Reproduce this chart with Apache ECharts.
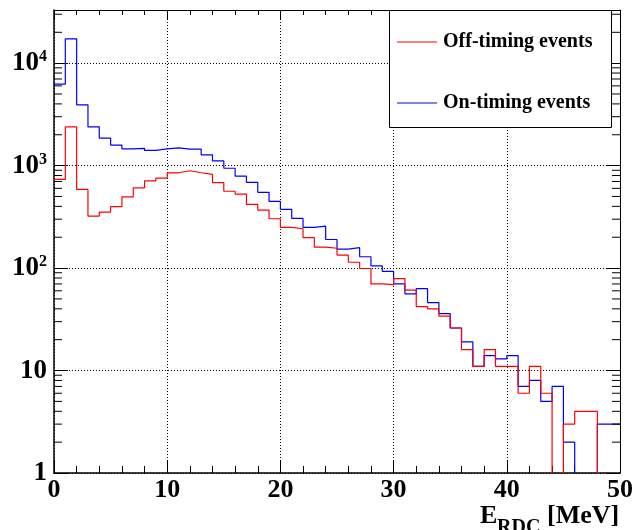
<!DOCTYPE html>
<html>
<head>
<meta charset="utf-8">
<script src="https://cdn.jsdelivr.net/npm/echarts@6/dist/echarts.min.js"></script>
<style>
html,body{margin:0;padding:0;background:#fff;}
#chart{width:644px;height:530px;}
</style>
</head>
<body>
<div id="chart"></div>
<script>
// ---- data (1 MeV bins from 0 to 50 MeV) ----
const binEdges = Array.from({length: 51}, (_, i) => i); // 0,1,...,50
const offTiming = [733, 2390, 586, 322, 352, 397, 496, 607, 711, 755,
  851, 890, 851, 820, 683, 562, 527, 418, 368, 303,
  250, 242, 198, 160, 156, 134, 114, 99, 70, 69,
  79, 61, 42, 40, 34, 26, 16, 11, 16, 11,
  11, 6, 11, 6, 0, 3, 4, 4, 0, 0];
const onTiming = [6240, 17260, 3920, 2390, 1855, 1585, 1459, 1475, 1406, 1459,
  1492, 1449, 1449, 1275, 1110, 942, 790, 686, 548, 447,
  374, 305, 250, 257, 190, 153, 158, 129, 105, 93,
  70, 56, 63, 46, 36, 26, 19, 11, 14, 13,
  14, 7, 8, 5, 7, 2, 0, 0, 3, 3];
const seriesNames = ['Off-timing events', 'On-timing events'];
const xTicks = [0, 10, 20, 30, 40, 50];
const yDecades = [1, 10, 100, 1000, 10000];
const yMinorTicks = [2,3,4,5,6,7,8,9,20,30,40,50,60,70,80,90,200,300,400,500,600,700,800,900,
  2000,3000,4000,5000,6000,7000,8000,9000,20000,30000];

const FONT = 'Liberation Serif';
const Y_MIN = 1, Y_MAX = 33000;

// histogram outline: point at each left bin edge, last edge repeats last bin
function histPoints(vals) {
  const pts = [];
  for (let i = 0; i < vals.length; i++) {
    // empty bins drop below the log axis floor (clipped at frame)
    pts.push([binEdges[i], vals[i] > 0 ? vals[i] : 0.1]);
  }
  const last = vals[vals.length - 1];
  pts.push([binEdges[vals.length], last > 0 ? last : 0.1]);
  return pts;
}

function yLabel(v) {
  const e = Math.round(Math.log10(v));
  if (Math.abs(Math.pow(10, e) - v) > 1e-6 * v) return '';
  if (e === 0) return '{b|1}';
  if (e === 1) return '{b|10}';
  return '{b|10}{s|' + e + '}';
}

// thin line legend icon (tiny corner specks keep the 40x14 box)
const LINE_ICON = 'path://M0,0h0.01v0.01h-0.01Z M0,6.4h40v1.2h-40Z M39.99,13.99h0.01v0.01h-0.01Z';

const chart = echarts.init(document.getElementById('chart'), null, {renderer: 'canvas'});
const gridDef = {left: 54, right: 24, top: 10, bottom: 57};

chart.setOption({
  animation: false,
  backgroundColor: '#fff',
  grid: gridDef,
  legend: {
    data: seriesNames.map(n => ({name: n, icon: LINE_ICON})),
    orient: 'vertical',
    left: 397,
    top: 32,
    itemWidth: 40,
    itemHeight: 14,
    itemGap: 41,
    padding: 0,
    z: 10,
    textStyle: {fontFamily: FONT, fontWeight: 'bold', fontSize: 20, color: '#000', padding: [0, 0, 0, 1]}
  },
  graphic: [
    {type: 'rect', z: 5, shape: {x: 389.5, y: 10.5, width: 222, height: 117},
     style: {fill: '#fff', stroke: '#000', lineWidth: 1}},
    {type: 'text', z: 5, left: 480, top: 503,
     style: {text: 'E', font: 'bold 26px "Liberation Serif"', fill: '#000'}},
    {type: 'text', z: 5, left: 497, top: 518,
     style: {text: 'RDC', font: 'bold 20px "Liberation Serif"', fill: '#000'}},
    {type: 'text', z: 5, left: 547, top: 503,
     style: {text: '[MeV]', font: 'bold 26px "Liberation Serif"', fill: '#000'}}
  ],
  xAxis: [
    {
      type: 'value', min: 0, max: 50, interval: 10, position: 'bottom',
      axisLine: {show: true, onZero: false, lineStyle: {color: '#000', width: 1.5}},
      axisTick: {show: true, inside: true, length: 12, lineStyle: {color: '#000'}},
      minorTick: {show: true, splitNumber: 5, length: 7, lineStyle: {color: '#000'}},
      axisLabel: {margin: 4, fontFamily: FONT, fontWeight: 'bold', fontSize: 26, color: '#000',
        formatter: v => xTicks.includes(v) ? String(v) : ''},
      splitLine: {show: true, lineStyle: {color: '#000', type: [1, 2], width: 1}}
    },
    {
      type: 'value', min: 0, max: 50, interval: 10, position: 'top',
      axisLine: {show: true, onZero: false, lineStyle: {color: '#000', width: 1}},
      axisTick: {show: true, inside: true, length: 10, lineStyle: {color: '#000'}},
      minorTick: {show: true, splitNumber: 5, length: 5, lineStyle: {color: '#000'}},
      axisLabel: {show: false},
      splitLine: {show: false}
    }
  ],
  yAxis: [
    {
      type: 'log', logBase: 10, min: Y_MIN, max: Y_MAX, position: 'left',
      axisLine: {show: true, onZero: false, lineStyle: {color: '#000', width: 1.5}},
      axisTick: {show: true, inside: true, length: 14, lineStyle: {color: '#000'}},
      axisLabel: {margin: 7, showMaxLabel: false, formatter: yLabel,
        rich: {
          b: {fontFamily: FONT, fontWeight: 'bold', fontSize: 27, color: '#000', lineHeight: 28},
          s: {fontFamily: FONT, fontWeight: 'bold', fontSize: 16, color: '#000', lineHeight: 16, verticalAlign: 'top'}
        }},
      splitLine: {show: true, lineStyle: {color: '#000', type: [1, 2], width: 1}}
    },
    {
      type: 'log', logBase: 10, min: Y_MIN, max: Y_MAX, position: 'right',
      axisLine: {show: true, onZero: false, lineStyle: {color: '#000', width: 1}},
      axisTick: {show: true, inside: true, length: 14, lineStyle: {color: '#000'}},
      axisLabel: {show: false},
      splitLine: {show: false}
    }
  ],
  series: [
    {
      name: seriesNames[1], type: 'line', step: 'end', symbol: 'none', clip: true,
      xAxisIndex: 0, yAxisIndex: 0, z: 3,
      lineStyle: {color: '#0000ff', width: 1.2}, itemStyle: {color: '#0000ff'},
      data: histPoints(onTiming)
    },
    {
      name: seriesNames[0], type: 'line', step: 'end', symbol: 'none', clip: true,
      xAxisIndex: 0, yAxisIndex: 0, z: 3,
      lineStyle: {color: '#ff0000', width: 1.2}, itemStyle: {color: '#ff0000'},
      data: histPoints(offTiming)
    },
    {
      name: 'minorTicks', type: 'custom', coordinateSystem: 'cartesian2d', silent: true,
      xAxisIndex: 0, yAxisIndex: 0, z: 4,
      data: yMinorTicks.map(v => [0, v]),
      renderItem: function (params, api) {
        const v = api.value(1);
        const pl = api.coord([0, v]);
        const pr = api.coord([50, v]);
        return {
          type: 'group',
          children: [
            {type: 'line', shape: {x1: pl[0], y1: pl[1], x2: pl[0] + 8, y2: pl[1]}, style: {stroke: '#000', lineWidth: 1}},
            {type: 'line', shape: {x1: pr[0] - 8, y1: pr[1], x2: pr[0], y2: pr[1]}, style: {stroke: '#000', lineWidth: 1}}
          ]
        };
      }
    }
  ]
});
</script>
</body>
</html>
